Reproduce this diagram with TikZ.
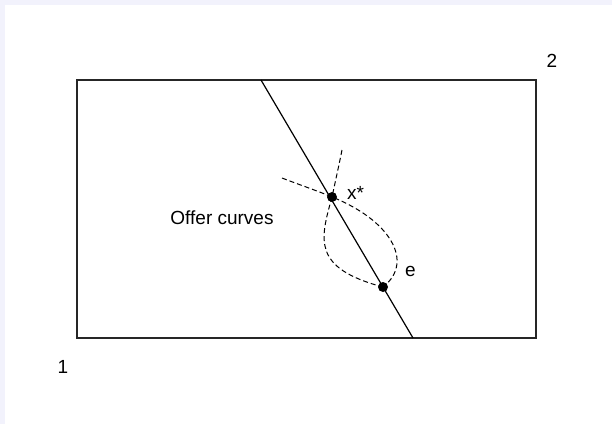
\documentclass[tikz,border=0pt]{standalone}
\usepackage{fontspec}
\setmainfont{Liberation Sans}
\definecolor{rand}{RGB}{242,242,252}
\tikzset{%
		kasten/.style={draw,line width=1.2pt,color=black!85},
		linie/.style={draw,line width=1.2pt},
		kurve/.style={draw,dash pattern=on 5pt off 3pt,line width=1pt},
		punkt/.style={circle,fill=black,inner sep=0pt,minimum size=10pt},
		schrift/.style={inner sep=0pt,font=\fontsize{19}{22}\selectfont}
	}

\begin{document}
\begin{tikzpicture}[x=1pt,y=-1pt]
        \fill[rand] (0,0) rectangle (612,424) ;
        \fill[white] (5,5) rectangle (612,424) ;
        \useasboundingbox (0,0) rectangle (612,424) ;
        \draw[kasten] (77,80) rectangle (536,338) ;
        \coordinate (oben) at (261,80) ;
        \coordinate (unten) at (413,338) ;
        \coordinate (a) at (282,178) ;
        \coordinate (b) at (342,150) ;
        \node[punkt] (xs) at (332,197) {} ;
        \node[punkt] (e) at (383,287) {} ;
        \draw[linie] (oben) -- (unten) ;
        \draw[kurve] (a) .. controls (300,185) and (318,191) .. (xs.center) .. controls (390,220) and (415,262) .. (e.center) ;
        \draw[kurve] (b) .. controls (339,165) and (335,183) .. (xs.center) .. controls (320,240) and (312,268) .. (e.center) ;
        \node[schrift] (angebot) at (222,218) {Offer curves} ;
        \node[schrift,anchor=base west] (xlab) at (347,199) {x*} ;
        \node[schrift,anchor=base west] (elab) at (405,276) {e} ;
        \node[schrift,anchor=base] (zwei) at (552,67) {2} ;
        \node[schrift,anchor=base] (eins) at (63,373) {1} ;
	\end{tikzpicture}
\end{document}
